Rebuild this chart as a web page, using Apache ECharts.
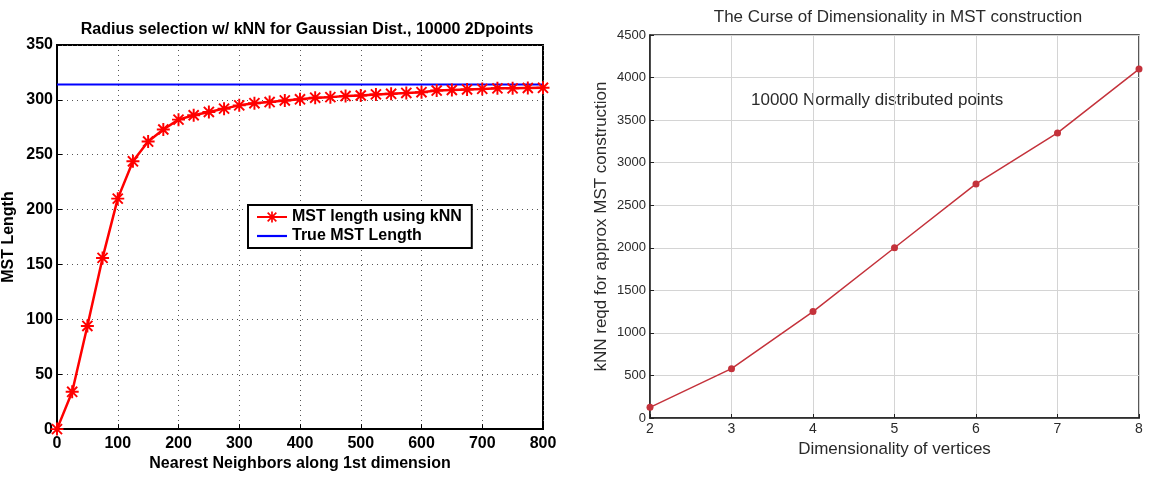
<!DOCTYPE html>
<html>
<head>
<meta charset="utf-8">
<script src="https://cdn.jsdelivr.net/npm/echarts@6/dist/echarts.min.js"></script>
<style>
  html, body { margin: 0; padding: 0; background: #fff; }
  #chart { width: 1151px; height: 477px; }
</style>
</head>
<body>
<div id="chart"></div>
<script>
// left panel: MST length vs number of neighbours
const knnNeighbors = [0, 25, 50, 75, 100, 125, 150, 175, 200, 225, 250, 275, 300, 325, 350, 375, 400,
  425, 450, 475, 500, 525, 550, 575, 600, 625, 650, 675, 700, 725, 750, 775, 800];
const mstLengthKnn = [0, 34, 94, 156, 210, 244, 262, 273, 282, 286, 289, 292, 295, 297, 298, 299.5, 300.5,
  302, 302.5, 303.5, 304, 305, 305.5, 306.3, 307, 308.5, 309, 309.5, 310, 310.5, 310.5, 310.8, 311];
const trueMstLength = 314;

// right panel: kNN needed vs dimensionality
const dimensions = [2, 3, 4, 5, 6, 7, 8];
const knnRequired = [125, 580, 1250, 2000, 2750, 3350, 4100];

const leftTitle = 'Radius selection w/ kNN for Gaussian Dist., 10000 2Dpoints';
const rightTitle = 'The Curse of Dimensionality in MST construction';
const rightNote = '10000 Normally distributed points';

// matlab style '*' marker
const asterisk = 'path://M8.5,0 L11.5,0 L11.5,20 L8.5,20 Z M0,8.5 L20,8.5 L20,11.5 L0,11.5 Z ' +
  'M1.2,3.3 L3.3,1.2 L18.8,16.7 L16.7,18.8 Z M16.7,1.2 L18.8,3.3 L3.3,18.8 L1.2,16.7 Z';
// plain line for legend entry of the blue series
const flatLine = 'path://M0,0 L30,0 L30,2.2 L0,2.2 Z';

const boldFont = { fontFamily: 'Liberation Sans', fontWeight: 'bold', color: '#000' };
const greyFont = { fontFamily: 'Liberation Sans', fontWeight: 'normal', color: '#2a2a2a' };

const chart = echarts.init(document.getElementById('chart'));

const options = {
  animation: false,
  title: [
    {
      text: leftTitle,
      left: 302, top: 17, textAlign: 'center',
      textStyle: Object.assign({ fontSize: 16 }, boldFont)
    },
    {
      text: rightTitle,
      left: 893, top: 4, textAlign: 'center',
      textStyle: Object.assign({ fontSize: 17 }, greyFont)
    }
  ],
  legend: {
    left: 248, top: 205,
    orient: 'vertical',
    backgroundColor: '#fff',
    borderColor: '#000',
    borderWidth: 2,
    borderRadius: 0,
    padding: [4, 10, 4, 8],
    itemGap: 3,
    itemWidth: 30,
    itemHeight: 14,
    symbolKeepAspect: true,
    data: ['MST length using kNN', { name: 'True MST Length', icon: flatLine }],
    textStyle: Object.assign({ fontSize: 16 }, boldFont)
  },
  grid: [
    {
      left: 57, right: 608, top: 45, bottom: 47,
      show: true, borderColor: '#000', borderWidth: 2, backgroundColor: '#fff'
    },
    {
      left: 650, right: 12, top: 35, bottom: 59,
      show: true, borderColor: '#222', borderWidth: 1.5, backgroundColor: '#fff'
    }
  ],
  xAxis: [
    {
      gridIndex: 0, type: 'value', min: 0, max: 800, interval: 100,
      name: 'Nearest Neighbors along 1st dimension',
      nameLocation: 'middle', nameGap: 24,
      nameTextStyle: Object.assign({ fontSize: 16 }, boldFont),
      axisLine: { lineStyle: { color: '#000', width: 2 } },
      axisTick: { inside: true, length: 5, lineStyle: { color: '#000' } },
      axisLabel: Object.assign({ fontSize: 16, margin: 6 }, boldFont),
      splitLine: { show: true, lineStyle: { type: [1, 4], color: '#555', width: 1 } }
    },
    {
      gridIndex: 1, type: 'value', min: 2, max: 8, interval: 1,
      name: 'Dimensionality of vertices',
      nameLocation: 'middle', nameGap: 21,
      nameTextStyle: Object.assign({ fontSize: 17 }, greyFont),
      axisLine: { lineStyle: { color: '#222', width: 1.5 } },
      axisTick: { inside: true, length: 4, lineStyle: { color: '#222' } },
      axisLabel: Object.assign({ fontSize: 14, margin: 4 }, greyFont),
      splitLine: { show: true, lineStyle: { type: 'solid', color: '#d4d4d4', width: 1 } }
    }
  ],
  yAxis: [
    {
      gridIndex: 0, type: 'value', min: 0, max: 350, interval: 50,
      name: 'MST Length',
      nameLocation: 'middle', nameGap: 40,
      nameTextStyle: Object.assign({ fontSize: 16 }, boldFont),
      axisLine: { lineStyle: { color: '#000', width: 2 } },
      axisTick: { inside: true, length: 5, lineStyle: { color: '#000' } },
      axisLabel: Object.assign({ fontSize: 16, margin: 4 }, boldFont),
      splitLine: { show: true, lineStyle: { type: [1, 4], color: '#555', width: 1 } }
    },
    {
      gridIndex: 1, type: 'value', min: 0, max: 4500, interval: 500,
      name: 'kNN reqd for approx MST construction',
      nameLocation: 'middle', nameGap: 40,
      nameTextStyle: Object.assign({ fontSize: 17 }, greyFont),
      axisLine: { lineStyle: { color: '#222', width: 1.5 } },
      axisTick: { inside: true, length: 4, lineStyle: { color: '#222' } },
      axisLabel: Object.assign({ fontSize: 13, margin: 4, formatter: v => String(v) }, greyFont),
      splitLine: { show: true, lineStyle: { type: 'solid', color: '#d4d4d4', width: 1 } }
    }
  ],
  graphic: [
    {
      type: 'text', left: 751, top: 92,
      style: { text: rightNote, fontSize: 17, fill: '#2a2a2a', fontFamily: 'Liberation Sans' }
    }
  ],
  series: [
    {
      name: 'MST length using kNN',
      type: 'line',
      xAxisIndex: 0, yAxisIndex: 0,
      data: knnNeighbors.map((x, i) => [x, mstLengthKnn[i]]),
      symbol: asterisk,
      symbolSize: 13,
      showAllSymbol: true,
      lineStyle: { color: '#ff0000', width: 2.5 },
      itemStyle: { color: '#ff0000' },
      z: 3
    },
    {
      name: 'True MST Length',
      type: 'line',
      xAxisIndex: 0, yAxisIndex: 0,
      data: [[0, trueMstLength], [800, trueMstLength]],
      symbol: 'none',
      lineStyle: { color: '#0000ff', width: 2 },
      itemStyle: { color: '#0000ff' },
      z: 2
    },
    {
      name: 'kNN required',
      type: 'line',
      xAxisIndex: 1, yAxisIndex: 1,
      data: dimensions.map((d, i) => [d, knnRequired[i]]),
      symbol: 'circle',
      symbolSize: 7,
      lineStyle: { color: '#c4323b', width: 1.5 },
      itemStyle: { color: '#c4323b' }
    }
  ]
};

chart.setOption(options);
</script>
</body>
</html>
